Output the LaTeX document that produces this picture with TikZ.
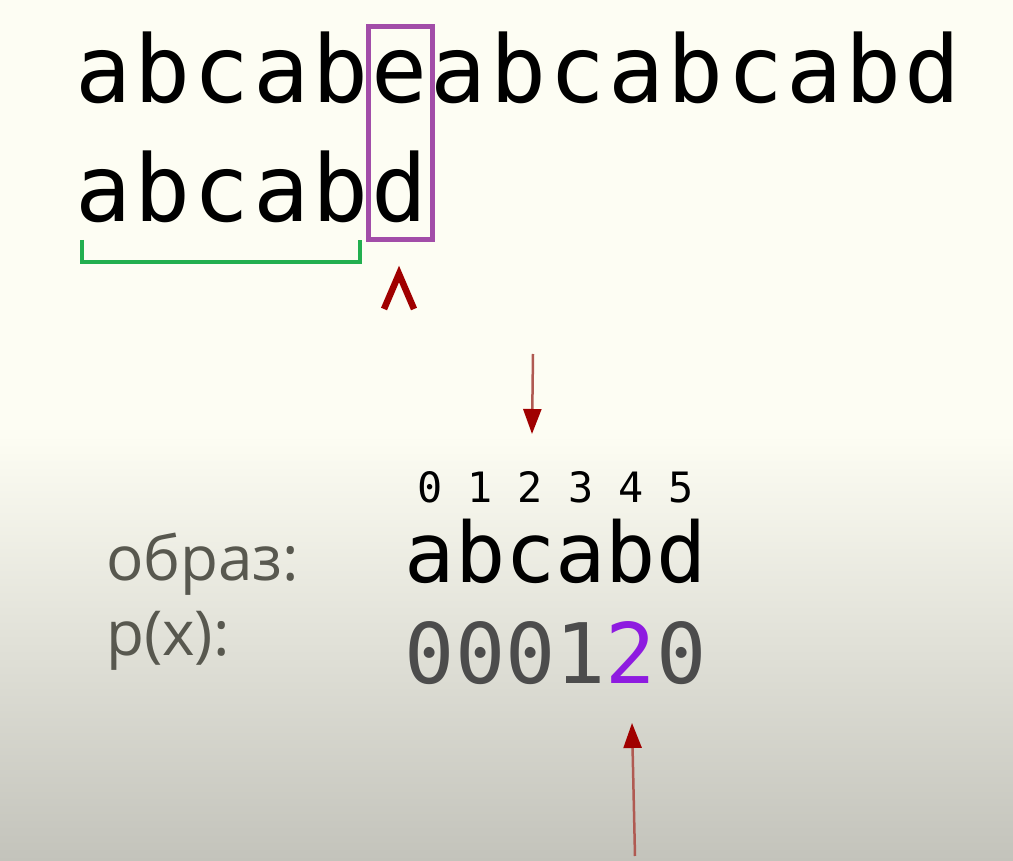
\documentclass[tikz,border=0pt]{standalone}
\usepackage{fontspec}
\usetikzlibrary{arrows.meta}
\newfontfamily\monofont{DejaVu Sans Mono}
\newfontfamily\widemonofont[LetterSpace=3.5]{DejaVu Sans Mono}
\newfontfamily\labelfont{Open Sans}
\definecolor{cream}{HTML}{FDFDF3}
\definecolor{greybottom}{HTML}{C3C3BB}
\definecolor{boxpurple}{HTML}{A24DA8}
\definecolor{bracketgreen}{HTML}{22AF4F}
\definecolor{darkred}{HTML}{A00000}
\definecolor{shaftred}{HTML}{B05A52}
\definecolor{digitgrey}{HTML}{4C4C4C}
\definecolor{hitviolet}{HTML}{8E1BE0}
\definecolor{labelgrey}{HTML}{58584F}

\begin{document}
\begin{tikzpicture}[x=1pt, y=-1pt]
        \tikzstyle{bigtext}=[inner sep=0pt, outer sep=0pt, anchor=base west, font=\widemonofont\fontsize{93}{94}\selectfont]
        \tikzstyle{pattext}=[inner sep=0pt, outer sep=0pt, anchor=base west, font=\monofont\fontsize{83.5}{84}\selectfont]
        \tikzstyle{indextext}=[inner sep=0pt, outer sep=0pt, anchor=base west, font=\monofont\fontsize{41.8}{42}\selectfont]
        \tikzstyle{label}=[inner sep=0pt, outer sep=0pt, anchor=base west, text=labelgrey, font=\labelfont\fontsize{62}{62}\selectfont]
        \tikzstyle{pointer}=[line width=2.5pt, shaftred, -{Triangle[length=25pt, width=18pt, color=darkred]}]

        % background
        \fill[cream] (0,0) rectangle (1013,861);
        \shade[top color=cream, bottom color=greybottom] (0,435) rectangle (1013,861);

        % text and pattern on top
        \node[bigtext] (text) at (75.5,103) {abcabeabcabcabd};
        \node[bigtext] (shifted) at (75.5,222) {abcabd};
        \node[draw=boxpurple, line width=5pt, minimum width=64pt, minimum height=213pt, inner sep=0pt] (mismatch) at (400,133.5) {};
        \draw[bracketgreen, line width=4.5pt] (82,240) -- (82,262) -- (360,262) -- (360,240);
        \draw[darkred, line width=6.5pt, line join=miter] (384,309) -- (399,274) -- (414,309);

        % pattern with its prefix function
        \node[indextext] (index) at (417.2,502) {0 1 2 3 4 5};
        \node[pattext] (pattern) at (404.8,582) {abcabd};
        \node[pattext, text=digitgrey] (prefix) at (404.8,683) {0001\textcolor{hitviolet}{2}0};
        \node[label] (patlabel) at (106,580) {образ:};
        \node[label] (pxlabel) at (106,655) {p(x):};

        \coordinate (downtail) at (533,354);
        \coordinate (downtip) at (532,434);
        \coordinate (uptail) at (635,856);
        \coordinate (uptip) at (632,723);
        \draw[pointer] (downtail) -- (downtip);
        \draw[pointer] (uptail) -- (uptip);
    \end{tikzpicture}
\end{document}
